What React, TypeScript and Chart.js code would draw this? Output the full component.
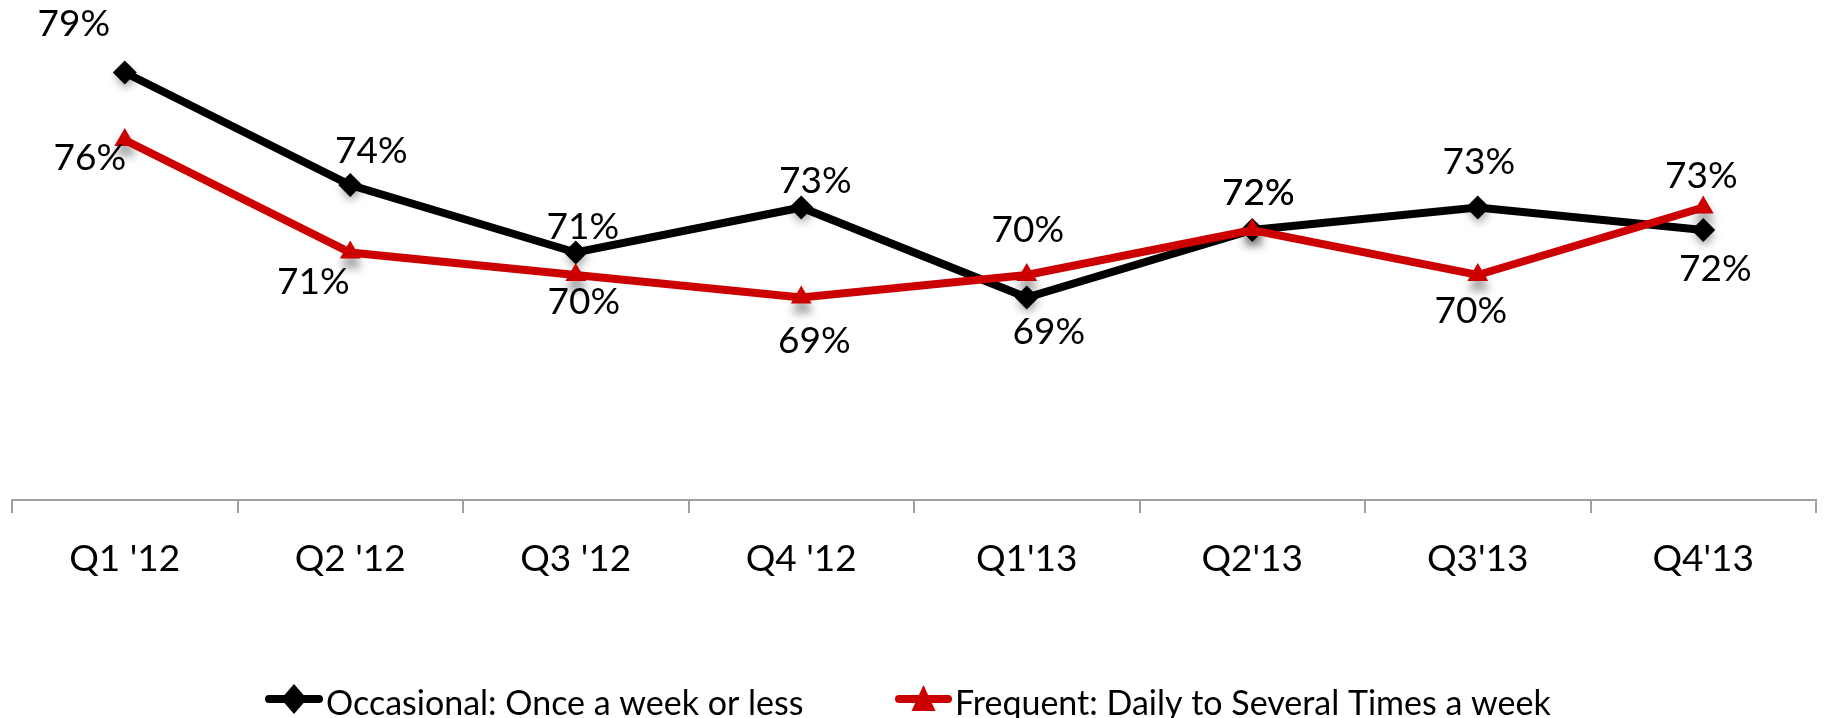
import React, { useEffect, useRef } from 'react';
import { Chart, registerables } from 'chart.js';

Chart.register(...registerables);

const categories = ["Q1 '12", "Q2 '12", "Q3 '12", "Q4 '12", "Q1'13", "Q2'13", "Q3'13", "Q4'13"];
const occasional = [79, 74, 71, 73, 69, 72, 73, 72];
const frequent = [76, 71, 70, 69, 70, 72, 70, 73];
const seriesNames = ['Occasional: Once a week or less', 'Frequent: Daily to Several Times a week'];
const seriesColors = ['#000000', '#cc0000'];
const yMin = 60;
const yMax = 80;

// data label placement (pixel offsets from each point), styling only
const occasionalLabelOffsets = [[-51, -50], [21, -35], [7, -27], [14, -28], [22, 33], [6, -38], [1, -47], [12, 38]];
const frequentLabelOffsets = [[-35, 17], [-37, 28], [8, 26], [13, 42], [1, -46], [6, -38], [-7, 35], [-2, -33]];
const labelOffsets = [occasionalLabelOffsets, frequentLabelOffsets];

const FONT = 'Lato, "Open Sans", sans-serif';

function markerPath(ctx: CanvasRenderingContext2D, style: string, x: number, y: number, hw: number, hh: number) {
  ctx.beginPath();
  if (style === 'rectRot') {
    ctx.moveTo(x - hw, y);
    ctx.lineTo(x, y - hh);
    ctx.lineTo(x + hw, y);
    ctx.lineTo(x, y + hh);
  } else {
    ctx.moveTo(x, y - hh);
    ctx.lineTo(x + hw, y + hh);
    ctx.lineTo(x - hw, y + hh);
  }
  ctx.closePath();
}

const shadowPlugin = {
  id: 'markerShadows',
  beforeDatasetsDraw(chart: any) {
    const ctx = chart.ctx;
    ctx.save();
    ctx.filter = 'blur(4px)';
    ctx.fillStyle = 'rgba(0,0,0,0.35)';
    chart.data.datasets.forEach((ds: any, di: number) => {
      const meta = chart.getDatasetMeta(di);
      meta.data.forEach((pt: any) => {
        markerPath(ctx, ds.pointStyle, pt.x + 1, pt.y + 5, 11, 11);
        ctx.fill();
      });
    });
    ctx.restore();
  },
};

const dataLabelPlugin = {
  id: 'dataLabels',
  afterDatasetsDraw(chart: any) {
    const ctx = chart.ctx;
    ctx.save();
    ctx.font = `37px ${FONT}`;
    ctx.fillStyle = '#000';
    ctx.textAlign = 'center';
    ctx.textBaseline = 'alphabetic';
    chart.data.datasets.forEach((ds: any, di: number) => {
      const meta = chart.getDatasetMeta(di);
      meta.data.forEach((pt: any, i: number) => {
        const off = labelOffsets[di][i];
        ctx.fillText(`${ds.data[i]}%`, pt.x + off[0], pt.y + off[1] + 37 * 0.36);
      });
    });
    ctx.restore();
  },
};

const legendPlugin = {
  id: 'customLegend',
  afterDraw(chart: any) {
    const ctx = chart.ctx;
    const xs = [265, 895];
    const lws = [58, 57];
    const cy = 699;
    ctx.save();
    chart.data.datasets.forEach((ds: any, di: number) => {
      const x0 = xs[di];
      const lw = lws[di];
      ctx.strokeStyle = ds.borderColor;
      ctx.lineWidth = 8;
      ctx.lineCap = 'round';
      ctx.beginPath();
      ctx.moveTo(x0 + 4, cy);
      ctx.lineTo(x0 + lw - 4, cy);
      ctx.stroke();
      ctx.fillStyle = ds.pointBackgroundColor;
      const mx = x0 + lw / 2;
      if (ds.pointStyle === 'rectRot') {
        markerPath(ctx, 'rectRot', mx, cy, 13, 15);
      } else {
        markerPath(ctx, 'triangle', mx, cy - 1, 12, 13);
      }
      ctx.fill();
      ctx.fillStyle = '#000';
      ctx.font = `34px ${FONT}`;
      ctx.textAlign = 'left';
      ctx.textBaseline = 'alphabetic';
      ctx.fillText(ds.label, x0 + lw + 3, 703 + 34 * 0.36);
    });
    ctx.restore();
  },
};

export default function App() {
  const ref = useRef<HTMLCanvasElement | null>(null);
  useEffect(() => {
    if (!ref.current) return;
    const chart = new Chart(ref.current, {
      type: 'line',
      data: {
        labels: categories,
        datasets: [
          {
            label: seriesNames[0],
            data: occasional,
            borderColor: seriesColors[0],
            backgroundColor: seriesColors[0],
            pointBackgroundColor: seriesColors[0],
            pointBorderColor: seriesColors[0],
            borderWidth: 8,
            pointStyle: 'rectRot',
            pointRadius: 12,
            pointBorderWidth: 0,
            tension: 0,
            order: 2,
          },
          {
            label: seriesNames[1],
            data: frequent,
            borderColor: seriesColors[1],
            backgroundColor: seriesColors[1],
            pointBackgroundColor: seriesColors[1],
            pointBorderColor: seriesColors[1],
            borderWidth: 8,
            pointStyle: 'triangle',
            pointRadius: 12,
            pointBorderWidth: 0,
            tension: 0,
            order: 1,
          },
        ],
      },
      options: {
        responsive: false,
        animation: false,
        devicePixelRatio: 1,
        layout: { padding: { left: 10, right: 5, top: 50, bottom: 0 } },
        plugins: {
          legend: { display: false },
          tooltip: { enabled: false },
        },
        scales: {
          y: {
            display: false,
            min: yMin,
            max: yMax,
          },
          x: {
            offset: true,
            grid: {
              display: true,
              offset: true,
              drawOnChartArea: false,
              drawTicks: true,
              tickLength: 13,
              color: '#a0a0a0',
              lineWidth: 2,
            },
            border: { display: true, color: '#a0a0a0', width: 2 },
            ticks: {
              color: '#000',
              font: { family: FONT, size: 37 },
              padding: 24,
              maxRotation: 0,
              autoSkip: false,
            },
            afterFit: (s: any) => {
              s.height = 218;
            },
          },
        },
      },
      plugins: [shadowPlugin, dataLabelPlugin, legendPlugin],
    });
    return () => chart.destroy();
  }, []);
  return (
    <div style={{ position: 'fixed', left: 0, top: 0, width: 1828, height: 718, background: '#fff' }}>
      <canvas ref={ref} width={1828} height={718} style={{ display: 'block' }} />
    </div>
  );
}
